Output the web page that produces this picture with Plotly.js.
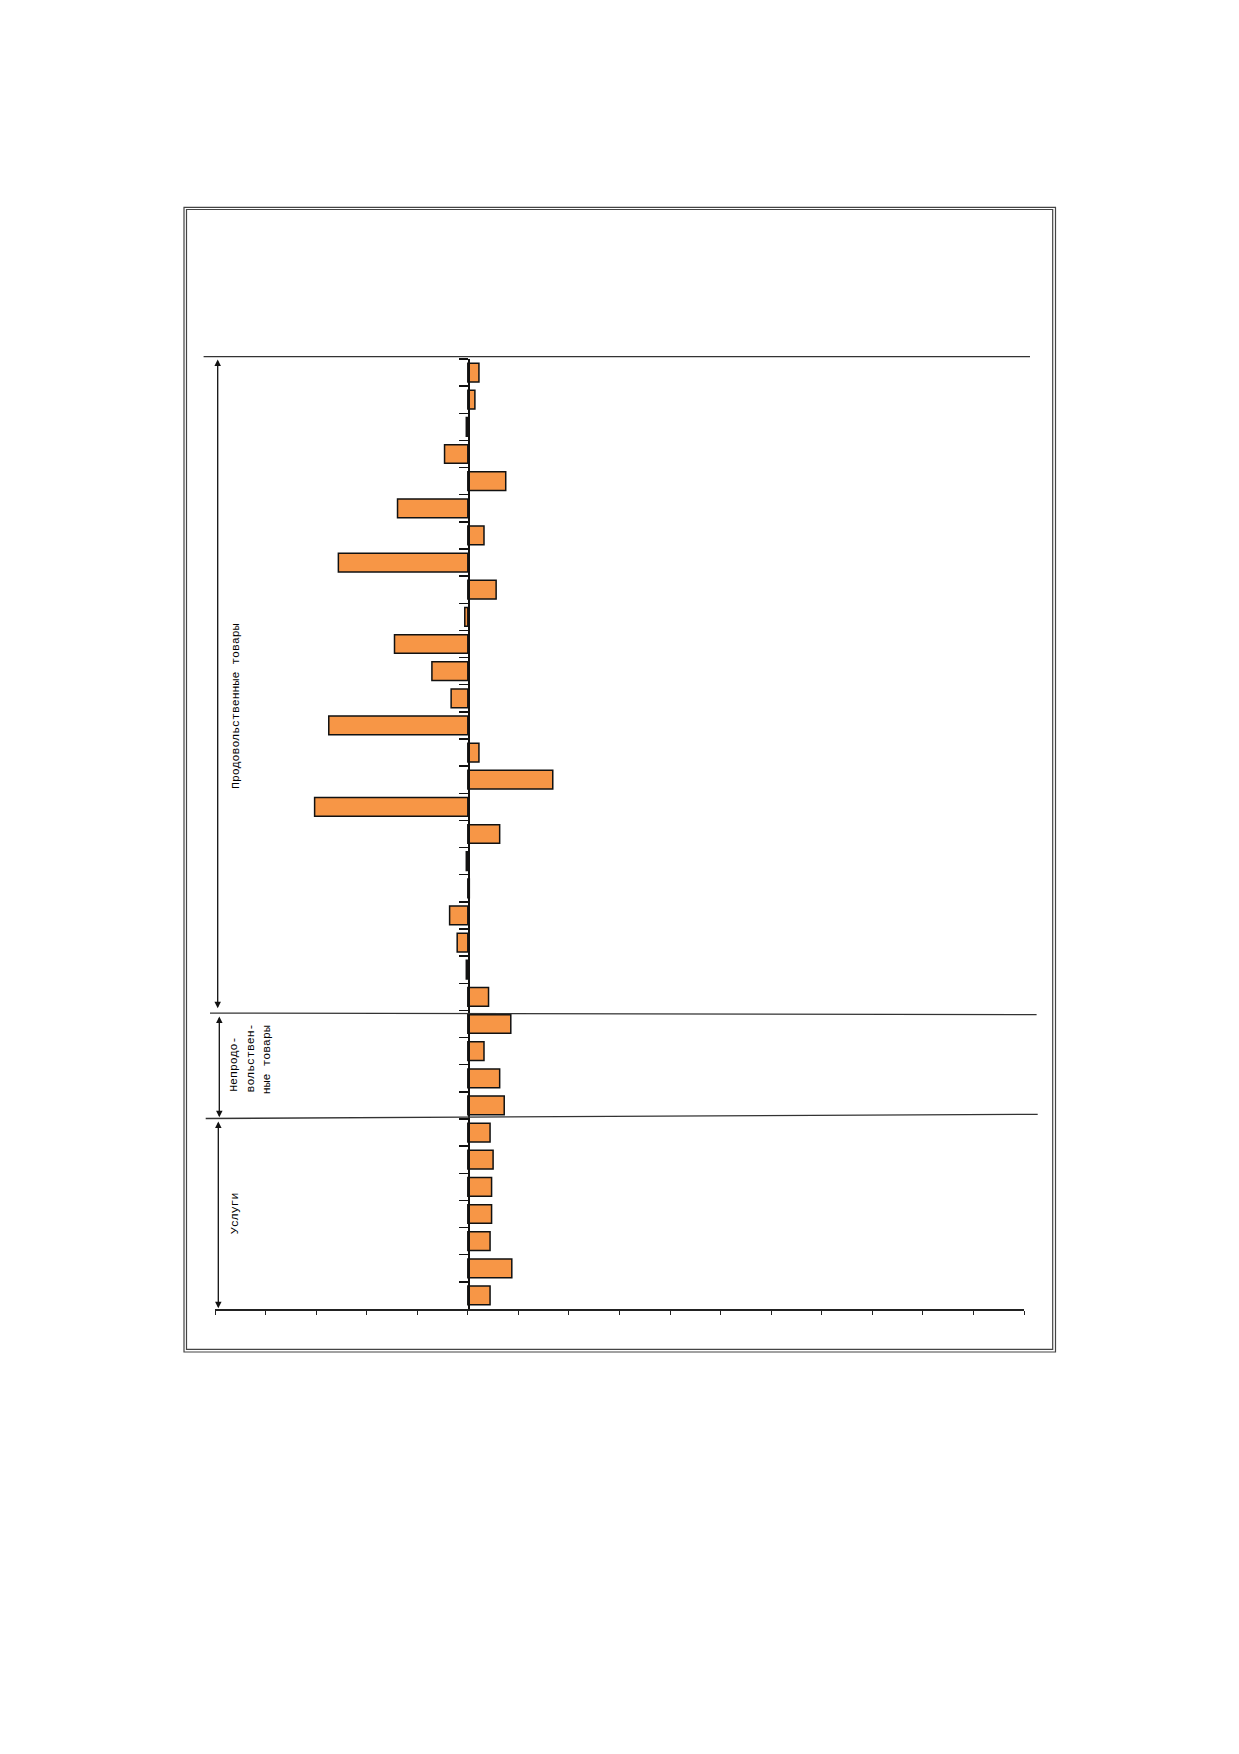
<!DOCTYPE html>
<html>
<head>
<meta charset="utf-8">
<script src="https://cdn.plot.ly/plotly-3.0.1.min.js"></script>
<style>html,body{margin:0;padding:0;background:#fff;}#chart{width:1239px;height:1754px;}</style>
</head>
<body>
<div id="chart"></div>
<script>
// Categories (positions in the chart, top to bottom; no labels are printed)
const categories = ["1","2","3","4","5","6","7","8","9","10","11","12","13","14","15","16","17","18","19","20","21","22","23","24","25","26","27","28","29","30","31","32","33","34","35"];
// Group values
const foodValues = [0.22, 0.14, -0.03, -0.46, 0.75, -1.39, 0.32, -2.56, 0.56, -0.06, -1.45, -0.71, -0.33, -2.75, 0.22, 1.68, -3.03, 0.63, -0.03, 0.03, -0.36, -0.21, -0.03, 0.41];
const nonFoodValues = [0.85, 0.32, 0.63, 0.72];
const serviceValues = [0.44, 0.50, 0.47, 0.47, 0.44, 0.87, 0.44];
// Group labels
const groupLabels = ["Продовольственные товары", ["Непродо-", "вольствен-", "ные товары"], "Услуги"];

const values = foodValues.concat(nonFoodValues, serviceValues);

const W = 1239, H = 1754, L = 215, R = 215, T = 359, B = 445;
const PW = W - L - R, PH = H - T - B;
const px = x => (x - L) / PW;
const py = y => (H - B - y) / PH;
const FONT = "Liberation Mono, Courier New, monospace";
const TXT = "#000";

const trace = {
  type: "bar",
  orientation: "h",
  x: values,
  y: categories,
  marker: {color: "#F79646", line: {color: "#111", width: 1.5}},
  hoverinfo: "none"
};

function line(x0, y0, x1, y1, w, c) {
  return {type: "line", xref: "paper", yref: "paper", x0: px(x0), y0: py(y0), x1: px(x1), y1: py(y1),
          line: {color: c || "#222", width: w || 1}};
}
function rect(x0, y0, x1, y1, w, c) {
  return {type: "rect", xref: "paper", yref: "paper", x0: px(x0), y0: py(y0), x1: px(x1), y1: py(y1),
          line: {color: c || "#333", width: w || 1}, fillcolor: "rgba(0,0,0,0)"};
}
function arrow(x, y0, y1) {
  return {xref: "paper", yref: "paper", x: px(x), y: py(y1), ax: 0, ay: y0 - y1,
          text: "", showarrow: true, arrowhead: 2, arrowsize: 1, arrowwidth: 1.3,
          arrowside: "end+start", arrowcolor: "#111", standoff: 0, startstandoff: 0};
}
function label(text, x, y, yanchor) {
  return {xref: "paper", yref: "paper", x: px(x), y: py(y), text: text, showarrow: false,
          textangle: -90, xanchor: "center", yanchor: yanchor || "middle",
          font: {family: FONT, size: 11.5, color: TXT}};
}

const shapes = [
  rect(184, 207.3, 1055.5, 1352, 1.2, "#444"),
  rect(186.5, 209.5, 1052.7, 1349.3, 1.2, "#444"),
  line(203.6, 356.7, 1030, 356.7, 1.3, "#333"),
  line(210, 1013.1, 1036.6, 1014.7, 1.3, "#333"),
  line(205.7, 1118.5, 1037.7, 1114.3, 1.3, "#333")
];

const annotations = [
  arrow(217.7, 358, 1008.3),
  arrow(219.3, 1015, 1117.3),
  arrow(218.3, 1120, 1308.3),
  label(groupLabels[0], 235, 706),
  label(groupLabels[1][0], 233.3, 1094, "bottom"),
  label(groupLabels[1][1], 250, 1095, "bottom"),
  label(groupLabels[1][2], 266.7, 1096, "bottom"),
  label(groupLabels[2], 234, 1214)
];

const layout = {
  width: W, height: H,
  margin: {l: L, r: R, t: T, b: B, pad: 0},
  paper_bgcolor: "#fff", plot_bgcolor: "#fff",
  showlegend: false,
  bargap: 0.31,
  font: {family: FONT, size: 11, color: TXT},
  xaxis: {
    range: [-5, 11], dtick: 1, tick0: 0, showgrid: false, zeroline: false,
    showline: true, linecolor: "#222", linewidth: 1.5,
    ticks: "outside", ticklen: 4, tickwidth: 1, tickcolor: "#222",
    showticklabels: false, fixedrange: true
  },
  yaxis: {
    type: "category", autorange: "reversed",
    anchor: "free", position: 5 / 16, side: "left",
    showgrid: false, zeroline: false,
    showline: true, linecolor: "#111", linewidth: 1.8,
    ticks: "outside", tickson: "boundaries", ticklen: 9, tickwidth: 1.3, tickcolor: "#111",
    showticklabels: false, fixedrange: true
  },
  shapes: shapes,
  annotations: annotations
};

Plotly.newPlot("chart", [trace], layout, {displayModeBar: false, staticPlot: true});
</script>
</body>
</html>
